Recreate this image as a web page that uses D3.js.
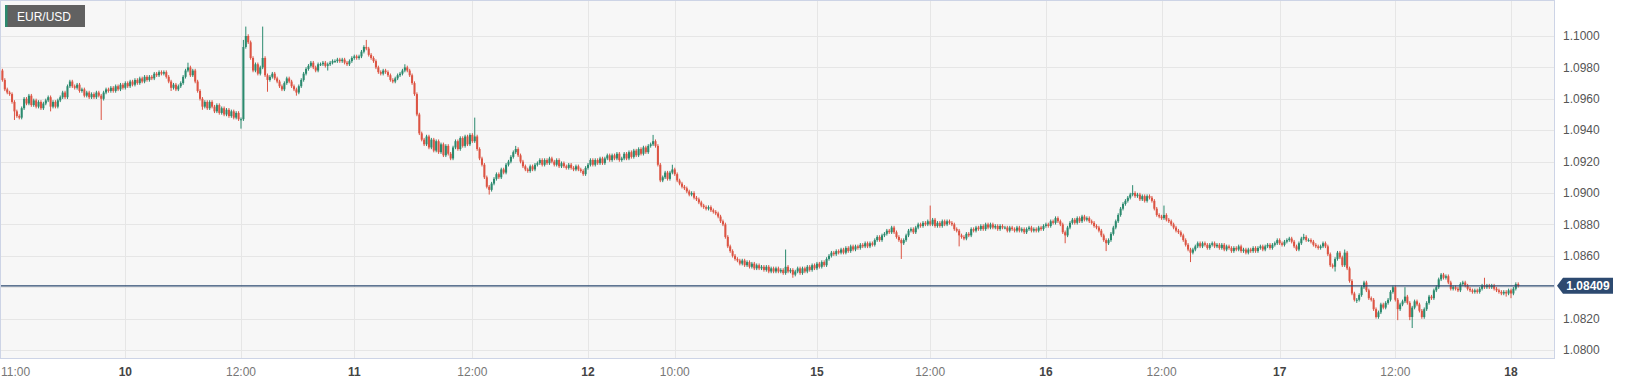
<!DOCTYPE html>
<html>
<head>
<meta charset="utf-8">
<script src="https://cdn.jsdelivr.net/npm/d3@7"></script>
<style>
  body { margin: 0; background: #ffffff; }
  svg { display: block; font-family: 'Liberation Sans', Arial, sans-serif; }
</style>
</head>
<body>
<div id="chart"></div>
<script>
// EUR/USD 15 minute candles, prices kept in pips above 1.0800.
const pipBase = 1.08;
const pip = 0.0001;
const symbol = 'EUR/USD';
const lastPrice = 1.08409;
const firstOpenPips = 182.8;

// Close of each candle (pips above 1.0800).
const closePips = [
  178,172,166,164,163,158,152,149,148,154,160,157,162,156,159,155,158,154,157,159,
  161,155,158,155,159,161,164,161,168,171,168,167,169,165,166,162,164,161,163,161,
  164,162,160,164,166,165,167,165,168,166,169,167,170,168,171,169,172,170,173,171,
  174,172,174,173,176,175,177,176,177,174,171,167,169,166,168,170,174,178,180,175,
  178,171,165,160,155,158,154,158,155,152,156,151,154,150,153,149,152,148,151,147,
  147,193,200,196,186,178,182,176,180,186,175,172,174,176,173,171,168,166,170,173,
  171,168,166,164,168,172,176,179,181,183,180,178,182,182,183,181,182,183,184,184,
  185,184,185,183,182,184,186,187,186,187,190,193,192,188,186,184,180,177,176,178,
  177,175,172,171,173,175,176,178,180,178,175,170,163,150,138,134,131,136,129,134,
  127,133,126,131,124,130,125,122,129,133,128,135,130,136,131,137,133,136,128,122,
  118,110,104,102,106,109,112,110,115,113,118,120,123,126,128,124,120,117,115,114,
  117,115,118,119,121,118,121,119,122,120,118,121,117,119,117,116,118,116,115,117,
  115,114,112,116,118,121,118,121,119,122,119,122,124,121,124,122,125,121,122,125,
  122,126,123,127,124,128,125,129,126,130,131,133,130,118,108,110,113,109,113,115,
  112,108,106,104,103,101,99,100,97,96,94,92,91,90,91,89,88,87,85,82,
  80,72,66,63,60,58,57,55,57,54,56,53,55,52,54,52,53,51,53,50,
  52,50,52,50,51,49,53,50,51,48,50,52,49,52,50,53,51,54,52,55,
  53,56,54,58,60,62,61,63,62,64,62,65,63,66,64,66,65,67,66,68,
  66,68,67,70,72,70,73,74,76,75,78,75,72,70,68,70,73,76,77,75,
  78,80,79,81,80,82,80,83,79,81,79,82,80,82,81,80,77,76,73,72,
  71,74,73,77,76,78,77,79,77,80,78,80,78,79,77,79,78,78,76,78,
  77,76,78,76,77,75,77,78,76,77,76,78,77,79,80,79,82,81,84,82,
  80,75,73,78,81,83,81,84,82,85,83,84,82,81,79,78,76,73,70,68,
  70,74,78,82,86,90,93,95,97,99,100,98,99,96,98,95,98,97,95,90,
  86,85,84,86,83,82,80,78,76,75,73,70,67,64,62,64,66,68,66,68,
  67,65,67,68,66,67,65,67,64,66,65,63,65,64,66,63,64,62,64,63,
  65,63,65,66,64,66,67,65,67,68,70,68,67,69,70,71,69,66,64,68,
  71,72,70,70,69,67,66,65,66,68,66,61,54,53,58,62,59,54,62,52,
  44,36,32,32,35,40,43,38,33,32,26,21,24,29,27,30,32,37,40,32,
  26,29,31,34,30,21,27,31,29,25,21,26,30,34,33,38,40,45,48,46,
  47,43,39,40,39,38,42,43,41,39,38,37,38,37,39,41,40,41,40,41,
  39,38,37,36,37,36,38,36,39,42,40.9
];

// Long wicks that stand out: [candle index, pips].
const highWicks = [
  [0,184],[78,183],[101,197.5],[102,206],[109,206],[152,197.5],[168,182],[197,148],
  [214,130],[271,137],[279,118],[326,64],[386,92],[470,105],[483,92],[541,74],
  [558,64],[578,41],[583,40],[598,49],[616,46]
];
const lowWicks = [
  [6,146.5],[21,152],[42,146.5],[71,165],[84,153],[100,141],[111,164.5],[123,162],
  [136,178],[203,99],[329,46],[374,58],[398,66],[442,68],[459,63],[494,56],[538,63],
  [554,50],[563,30],[571,20],[580,19],[585,19],[586,14],[625,34],[627,33]
];
const smallWick = 1.1;

// X axis labels: [candle index, text, is day].
const xTicks = [
  [0,'11:00',false],[52,'10',true],[100,'12:00',false],[147,'11',true],[196,'12:00',false],
  [244,'12',true],[280,'10:00',false],[339,'15',true],[386,'12:00',false],[434,'16',true],
  [482,'12:00',false],[531,'17',true],[579,'12:00',false],[627,'18',true]
];
const yTicks = [1.08, 1.082, 1.084, 1.086, 1.088, 1.09, 1.092, 1.094, 1.096, 1.098, 1.1];

// Build candles.
const highMap = new Map(highWicks);
const lowMap = new Map(lowWicks);
const candles = closePips.map((c, i) => {
  const o = i === 0 ? firstOpenPips : closePips[i - 1];
  const hi = highMap.has(i) ? highMap.get(i) : Math.max(o, c) + smallWick;
  const lo = lowMap.has(i) ? lowMap.get(i) : Math.min(o, c) - smallWick;
  return {
    i: i,
    open: pipBase + o * pip,
    close: pipBase + c * pip,
    high: pipBase + Math.max(hi, o, c) * pip,
    low: pipBase + Math.min(lo, o, c) * pip
  };
});

// Dimensions.
const pallette = {width: 1626, height: 385};
const plot = {left: 0, top: 0, right: 1555, bottom: 359};
const colors = {up: '#2b8a6e', down: '#dc5443', grid: '#e6e6e6', border: '#cdd4e6', plotBg: '#f7f7f7', price: '#2d4a70'};

// Scales.
const xScale = d3.scaleLinear().domain([0, 627]).range([0, 1511]);
const yScale = d3.scaleLinear().domain([1.08, 1.1]).range([350, 36]);
const bodyWidth = (xScale(1) - xScale(0)) * 0.85;

const svg = d3.select('#chart')
  .append('svg')
  .attr('width', pallette.width)
  .attr('height', pallette.height);

svg.append('defs').append('clipPath')
  .attr('id', 'plot-clip')
  .append('rect')
  .attr('x', plot.left)
  .attr('y', plot.top)
  .attr('width', plot.right - plot.left)
  .attr('height', plot.bottom - plot.top);

// Plot background.
svg.append('rect')
  .attr('x', plot.left)
  .attr('y', plot.top)
  .attr('width', plot.right - plot.left)
  .attr('height', plot.bottom - plot.top)
  .style('fill', colors.plotBg);

// Grid.
const grid = svg.append('g').attr('id', 'grid');
grid.selectAll('line.h')
  .data(yTicks)
  .enter()
  .append('line')
  .attr('class', 'h')
  .attr('x1', plot.left)
  .attr('x2', plot.right)
  .attr('y1', (d) => Math.round(yScale(d)) + 0.5)
  .attr('y2', (d) => Math.round(yScale(d)) + 0.5)
  .style('stroke', colors.grid);

grid.selectAll('line.v')
  .data(xTicks.filter((d) => d[0] > 0))
  .enter()
  .append('line')
  .attr('class', 'v')
  .attr('x1', (d) => Math.round(xScale(d[0])) + 0.5)
  .attr('x2', (d) => Math.round(xScale(d[0])) + 0.5)
  .attr('y1', plot.top)
  .attr('y2', plot.bottom)
  .style('stroke', colors.grid);

// Candles.
const candleGroup = svg.append('g')
  .attr('id', 'candles')
  .attr('clip-path', 'url(#plot-clip)');

candleGroup.selectAll('line.wick')
  .data(candles)
  .enter()
  .append('line')
  .attr('class', 'wick')
  .attr('x1', (d) => xScale(d.i))
  .attr('x2', (d) => xScale(d.i))
  .attr('y1', (d) => yScale(d.high))
  .attr('y2', (d) => yScale(d.low))
  .style('stroke', (d) => d.close >= d.open ? colors.up : colors.down)
  .style('stroke-width', 1);

candleGroup.selectAll('rect.body')
  .data(candles)
  .enter()
  .append('rect')
  .attr('class', 'body')
  .attr('x', (d) => xScale(d.i) - bodyWidth / 2)
  .attr('y', (d) => yScale(Math.max(d.open, d.close)))
  .attr('width', bodyWidth)
  .attr('height', (d) => Math.max(1, Math.abs(yScale(d.open) - yScale(d.close))))
  .style('fill', (d) => d.close >= d.open ? colors.up : colors.down);

// Last price line.
svg.append('line')
  .attr('x1', plot.left)
  .attr('x2', plot.right)
  .attr('y1', yScale(lastPrice))
  .attr('y2', yScale(lastPrice))
  .style('stroke', colors.price)
  .style('stroke-width', 1.3);

// Plot border.
svg.append('rect')
  .attr('x', plot.left + 0.5)
  .attr('y', plot.top + 0.5)
  .attr('width', plot.right - plot.left - 1)
  .attr('height', plot.bottom - plot.top - 1)
  .style('fill', 'none')
  .style('stroke', colors.border);

// Y axis labels (the last price tag covers 1.0840).
svg.append('g')
  .attr('id', 'y-axis')
  .selectAll('text')
  .data(yTicks.filter((d) => Math.abs(d - lastPrice) > 0.0008))
  .enter()
  .append('text')
  .attr('x', 1563)
  .attr('y', (d) => yScale(d))
  .attr('dy', '0.35em')
  .style('font-size', '12px')
  .style('fill', '#555')
  .text((d) => d3.format('.4f')(d));

// Last price tag.
const tagY = yScale(lastPrice);
const tag = svg.append('g').attr('id', 'price-tag');
tag.append('path')
  .attr('d', 'M1557,' + tagY + ' L1563,' + (tagY - 8) + ' L1613,' + (tagY - 8) + ' L1613,' + (tagY + 8) + ' L1563,' + (tagY + 8) + ' Z')
  .style('fill', colors.price);
tag.append('text')
  .attr('x', 1588)
  .attr('y', tagY)
  .attr('dy', '0.36em')
  .attr('text-anchor', 'middle')
  .style('font-size', '12px')
  .style('font-weight', 'bold')
  .style('fill', '#ffffff')
  .text(d3.format('.5f')(lastPrice));

// X axis labels.
svg.append('g')
  .attr('id', 'x-axis')
  .selectAll('text')
  .data(xTicks)
  .enter()
  .append('text')
  .attr('x', (d) => d[0] === 0 ? 1 : xScale(d[0]))
  .attr('y', 372)
  .attr('dy', '0.35em')
  .attr('text-anchor', (d) => d[0] === 0 ? 'start' : 'middle')
  .style('font-size', '12px')
  .style('font-weight', (d) => d[2] ? 'bold' : 'normal')
  .style('fill', (d) => d[2] ? '#444' : '#777')
  .text((d) => d[1]);

// Symbol legend.
const legend = svg.append('g').attr('id', 'legend');
legend.append('rect')
  .attr('x', 5).attr('y', 5).attr('width', 80).attr('height', 22)
  .style('fill', '#616161');
legend.append('rect')
  .attr('x', 5).attr('y', 5).attr('width', 2.5).attr('height', 22)
  .style('fill', colors.up);
legend.append('text')
  .attr('x', 17).attr('y', 21)
  .style('font-size', '12px')
  .style('fill', '#ffffff')
  .text(symbol);
</script>
</body>
</html>
